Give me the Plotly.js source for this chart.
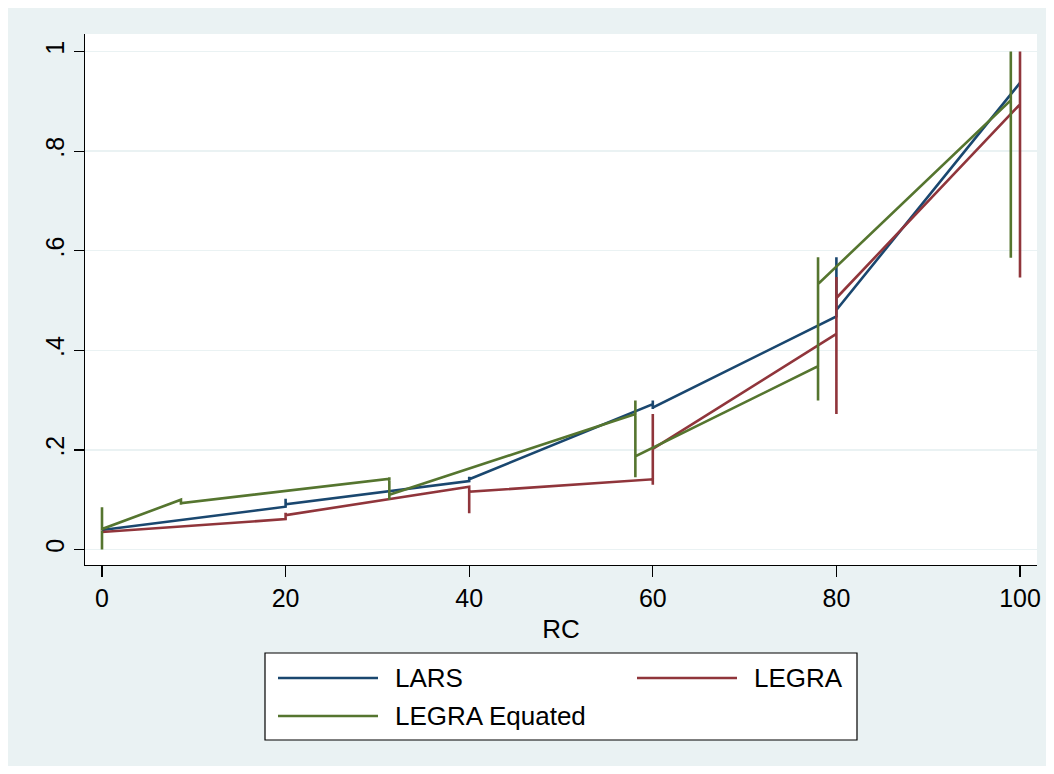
<!DOCTYPE html>
<html>
<head>
<meta charset="utf-8">
<script src="https://cdn.plot.ly/plotly-3.0.1.min.js"></script>
<style>
  html, body { margin: 0; padding: 0; background: #ffffff; }
  #chart { position: absolute; left: 8px; top: 8px; width: 1038px; height: 758px; }
</style>
</head>
<body>
<div id="chart"></div>
<script>
// ---- Data ----
const seriesNames = ["LARS", "LEGRA", "LEGRA Equated"];

const larsX = [0, 20, 20, 20, 40, 40, 40, 60, 60, 60, 60, 80, 80, 80, 100];
const larsY = [0.039, 0.086, 0.102, 0.091, 0.1375, 0.146, 0.141, 0.292, 0.299, 0.282, 0.285, 0.468, 0.587, 0.481, 0.937];

const legraX = [0, 20, 20, 20, 20, 40, 40, 40, 60, 60, 60, 60, 80, 80, 80, 80, 100, 100, 100];
const legraY = [0.035, 0.061, 0.074, 0.058, 0.069, 0.126, 0.073, 0.116, 0.141, 0.130, 0.272, 0.202, 0.433, 0.272, 0.547, 0.505, 0.894, 0.546, 1.0];

const eqX = [0, 0, 0, 8.6, 8.6, 8.6, 31.3, 31.3, 31.3, 31.3, 58.1, 58.1, 58.1, 58.1, 78, 78, 78, 78, 99, 99, 99];
const eqY = [0.0, 0.085, 0.041, 0.100, 0.090, 0.093, 0.142, 0.145, 0.100, 0.110, 0.272, 0.299, 0.145, 0.187, 0.368, 0.587, 0.299, 0.533, 0.902, 1.0, 0.586];

const xTickVals = [0, 20, 40, 60, 80, 100];
const xTickText = ["0", "20", "40", "60", "80", "100"];
const yTickVals = [0, 0.2, 0.4, 0.6, 0.8, 1];
const yTickText = ["0", ".2", ".4", ".6", ".8", "1"];

// ---- Styling ----
const colors = ["#1a476f", "#90353b", "#55752f"];
const FONT = "Liberation Sans, Arial, Helvetica, sans-serif";
const gridColor = "#eaf2f3";

const traces = [
  {x: larsX, y: larsY, name: seriesNames[0]},
  {x: legraX, y: legraY, name: seriesNames[1]},
  {x: eqX, y: eqY, name: seriesNames[2]}
].map((t, i) => Object.assign(t, {
  type: "scatter", mode: "lines",
  line: {color: colors[i], width: 2.6},
  showlegend: false, hoverinfo: "x+y+name"
}));

// ---- Custom legend (box, sample lines, labels) in paper coordinates ----
const plotLeft = 85, plotRight = 1037, plotTop = 34, plotBottom = 565;
const px = v => (v - plotLeft) / (plotRight - plotLeft);
const py = v => (plotBottom - v) / (plotBottom - plotTop);

const legendItems = [
  {name: seriesNames[0], color: colors[0], lx0: 278, lx1: 378, tx: 393, ty: 678},
  {name: seriesNames[1], color: colors[1], lx0: 637, lx1: 737, tx: 752, ty: 678},
  {name: seriesNames[2], color: colors[2], lx0: 278, lx1: 378, tx: 393, ty: 716}
];

const shapes = [{
  type: "rect", xref: "paper", yref: "paper",
  x0: px(265), x1: px(857), y0: py(740), y1: py(653),
  fillcolor: "#ffffff", line: {color: "#000000", width: 1.2}
}];
const annotations = [];
legendItems.forEach(it => {
  shapes.push({
    type: "line", xref: "paper", yref: "paper",
    x0: px(it.lx0), x1: px(it.lx1), y0: py(it.ty), y1: py(it.ty),
    line: {color: it.color, width: 2.6}
  });
  annotations.push({
    xref: "paper", yref: "paper", x: px(it.tx), y: py(it.ty),
    xanchor: "left", yanchor: "middle", showarrow: false,
    text: it.name, font: {family: FONT, size: 26, color: "#000000"}
  });
});

const layout = {
  width: 1038, height: 758,
  margin: {l: 77, r: 9, t: 26, b: 201, pad: 0},
  paper_bgcolor: "#eaf2f3",
  plot_bgcolor: "#ffffff",
  font: {family: FONT, size: 25, color: "#000000"},
  showlegend: false,
  xaxis: {
    range: [-17 / 9.18, 100 + 17 / 9.18],
    tickvals: xTickVals, ticktext: xTickText,
    ticks: "outside", ticklen: 11, tickwidth: 1.2, tickcolor: "#000000",
    showline: true, linecolor: "#000000", linewidth: 1.2,
    showgrid: false, zeroline: false,
    tickfont: {family: FONT, size: 25, color: "#000000"},
    title: {text: "RC", font: {family: FONT, size: 26, color: "#000000"}, standoff: 8}
  },
  yaxis: {
    range: [(549.5 - 565) / 498, (549.5 - 34) / 498],
    tickvals: yTickVals, ticktext: yTickText,
    tickangle: -90,
    ticks: "outside", ticklen: 10, tickwidth: 1.2, tickcolor: "#000000",
    showline: true, linecolor: "#000000", linewidth: 1.2,
    showgrid: true, gridcolor: gridColor, gridwidth: 1.5,
    zeroline: false,
    tickfont: {family: FONT, size: 25, color: "#000000"}
  },
  shapes: shapes,
  annotations: annotations
};

Plotly.newPlot("chart", traces, layout, {displayModeBar: false, staticPlot: true});
</script>
</body>
</html>
